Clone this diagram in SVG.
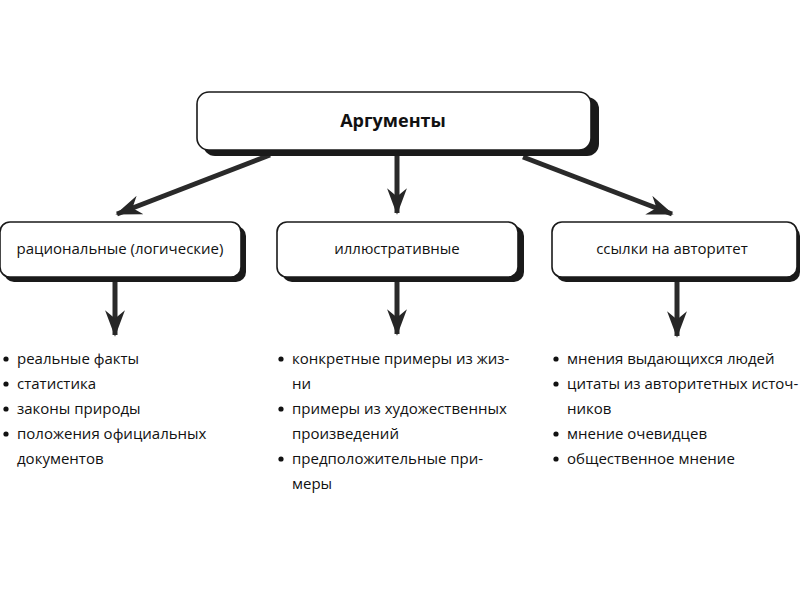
<svg xmlns="http://www.w3.org/2000/svg" width="800" height="600" viewBox="0 0 800 600">
<defs>
<marker id="ah" viewBox="0 0 16 12" refX="15" refY="6" markerWidth="5.3" markerHeight="4" orient="auto" markerUnits="strokeWidth">
<path d="M0,0 L16,6 L0,12 L5,6 z" fill="#262626"/>
</marker>
</defs>
<style>
.shadow{fill:#1a1a1a}
.box{fill:#fff;stroke:#1a1a1a;stroke-width:1.6}
.t{font-family:"Open Sans","Noto Sans","DejaVu Sans",sans-serif;font-size:15px;fill:#111}
.h{font-family:"Open Sans","Noto Sans","DejaVu Sans",sans-serif;font-size:18px;font-weight:bold;fill:#111}
.arr{stroke:#2a2a2a;stroke-width:5;fill:none;marker-end:url(#ah)}
.dot{fill:#111}
</style>
<rect width="800" height="600" fill="#fff"/>
<g id="connectors">
<line class="arr" x1="270" y1="155" x2="117" y2="214"/>
<line class="arr" x1="397" y1="152" x2="397" y2="213"/>
<line class="arr" x1="523" y1="157" x2="672" y2="214"/>
<line class="arr" x1="115" y1="281" x2="115" y2="335"/>
<line class="arr" x1="397" y1="281" x2="397" y2="334"/>
<line class="arr" x1="677" y1="281" x2="677" y2="336"/>
</g>
<g id="node-top">
<rect class="shadow" x="203" y="97" width="396" height="59" rx="12"/>
<rect class="box" x="197" y="92" width="394" height="58" rx="12"/>
<text class="h" x="393" y="127" text-anchor="middle">Аргументы</text>
</g>
<g id="node-rational">
<rect class="shadow" x="4" y="226" width="242" height="56" rx="10"/>
<rect class="box" x="0" y="222" width="241" height="55" rx="10"/>
<text class="t" x="120" y="254" text-anchor="middle">рациональные (логические)</text>
</g>
<g id="node-illustrative">
<rect class="shadow" x="282" y="226" width="242" height="56" rx="10"/>
<rect class="box" x="277" y="222" width="241" height="55" rx="10"/>
<text class="t" x="397" y="254" text-anchor="middle">иллюстративные</text>
</g>
<g id="node-authority">
<rect class="shadow" x="556" y="226" width="244" height="56" rx="10"/>
<rect class="box" x="552" y="222" width="245" height="55" rx="10"/>
<text class="t" x="672" y="254" text-anchor="middle">ссылки на авторитет</text>
</g>
<g id="list-rational">
<circle class="dot" cx="6" cy="359" r="2.6"/>
<text class="t" x="17" y="364">реальные факты</text>
<circle class="dot" cx="6" cy="384" r="2.6"/>
<text class="t" x="17" y="389">статистика</text>
<circle class="dot" cx="6" cy="409" r="2.6"/>
<text class="t" x="17" y="414">законы природы</text>
<circle class="dot" cx="6" cy="434" r="2.6"/>
<text class="t" x="17" y="439">положения официальных</text>
<text class="t" x="17" y="464">документов</text>
</g>
<g id="list-illustrative">
<circle class="dot" cx="281" cy="359" r="2.6"/>
<text class="t" x="292" y="364">конкретные примеры из жиз-</text>
<text class="t" x="292" y="389">ни</text>
<circle class="dot" cx="281" cy="409" r="2.6"/>
<text class="t" x="292" y="414">примеры из художественных</text>
<text class="t" x="292" y="439">произведений</text>
<circle class="dot" cx="281" cy="459" r="2.6"/>
<text class="t" x="292" y="464">предположительные при-</text>
<text class="t" x="292" y="489">меры</text>
</g>
<g id="list-authority">
<circle class="dot" cx="556" cy="359" r="2.6"/>
<text class="t" x="567" y="364">мнения выдающихся людей</text>
<circle class="dot" cx="556" cy="384" r="2.6"/>
<text class="t" x="567" y="389">цитаты из авторитетных источ-</text>
<text class="t" x="567" y="414">ников</text>
<circle class="dot" cx="556" cy="434" r="2.6"/>
<text class="t" x="567" y="439">мнение очевидцев</text>
<circle class="dot" cx="556" cy="459" r="2.6"/>
<text class="t" x="567" y="464">общественное мнение</text>
</g>
</svg>
